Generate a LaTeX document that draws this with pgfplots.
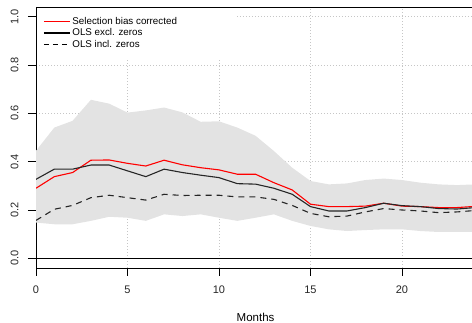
\documentclass[border=0pt]{standalone}
\usepackage{pgfplots}
\pgfplotsset{compat=1.18}
\usepackage{fontspec}
\setmainfont{Liberation Sans}
\begin{document}
\begin{tikzpicture}
\begin{axis}[
  name=ax,
  scale only axis,
  width=439.2pt, height=261pt,
  xmin=0, xmax=24, ymin=-0.04, ymax=1.04,
  xtick={0,5,10,15,20}, ytick={0,0.2,0.4,0.6,0.8,1.0},
  xticklabels={0,5,10,15,20},
  yticklabels={0.0,0.2,0.4,0.6,0.8,1.0},
  tick align=outside, major tick length=8pt,
  xtick pos=bottom, ytick pos=left,
  tick style={black, line width=0.9pt},
  axis line style={black, line width=0.9pt},
  grid=major,
  major grid style={gray!45, line width=0.6pt, dash pattern=on 0.8pt off 2.2pt},
  /pgf/number format/assume math mode=true,
  ticklabel style={font=\fontsize{11}{13}\selectfont, text=black!85},
  xticklabel style={yshift=-6pt},
  yticklabel style={rotate=90, anchor=south, xshift=0pt, yshift=6pt},
  xlabel={Months},
  xlabel style={font=\fontsize{11.5}{13}\selectfont, yshift=-13pt},
  legend style={draw=none, fill=none, at={(0,1)}, anchor=north west,
    xshift=4pt, yshift=-6pt, font=\fontsize{9.8}{11}\selectfont,
    row sep=-1pt},
  legend cell align=left,
]
\addlegendimage{legend image code/.code={\draw[red, line width=1.2pt] (0pt,0pt) -- (26pt,0pt);}}
\addlegendentry{Selection bias corrected}
\addlegendimage{legend image code/.code={\draw[black, line width=1.2pt] (0pt,0pt) -- (26pt,0pt);}}
\addlegendentry{OLS excl. zeros}
\addlegendimage{legend image code/.code={\draw[black, line width=1.2pt, dash pattern=on 5pt off 4pt] (0pt,0pt) -- (26pt,0pt);}}
\addlegendentry{OLS incl. zeros}
\addplot[fill=white, draw=none, forget plot] coordinates {(0.05,0.83) (11,0.83) (11,1.037) (0.05,1.037)} -- cycle;
\addplot[fill=black!11, draw=none, forget plot] coordinates {
(0,0.445) (1,0.541) (2,0.569) (3,0.656) (4,0.640) (5,0.603) (6,0.612) (7,0.624) (8,0.604) (9,0.565) (10,0.567) (11,0.541) (12,0.507) (13,0.444) (14,0.375) (15,0.320) (16,0.306) (17,0.310) (18,0.324) (19,0.330) (20,0.324) (21,0.313) (22,0.306) (23,0.303) (24,0.306)
(24,0.110) (23,0.109) (22,0.109) (21,0.113) (20,0.120) (19,0.120) (18,0.117) (17,0.113) (16,0.120) (15,0.134) (14,0.155) (13,0.182) (12,0.168) (11,0.155) (10,0.168) (9,0.182) (8,0.175) (7,0.182) (6,0.155) (5,0.168) (4,0.172) (3,0.155) (2,0.141) (1,0.141) (0,0.148)
} -- cycle;
\addplot[black, line width=0.9pt, forget plot] coordinates {(0,0) (24,0)};
\addplot[draw=red, line width=1.1pt, forget plot] coordinates {
(0,0.290) (1,0.338) (2,0.355) (3,0.406) (4,0.407) (5,0.393) (6,0.382) (7,0.406) (8,0.387) (9,0.375) (10,0.366) (11,0.348) (12,0.348) (13,0.313) (14,0.283) (15,0.224) (16,0.214) (17,0.214) (18,0.216) (19,0.228) (20,0.216) (21,0.214) (22,0.210) (23,0.210) (24,0.215)};
\addplot[draw=black!85, line width=1.1pt, forget plot] coordinates {
(0,0.327) (1,0.369) (2,0.369) (3,0.386) (4,0.386) (5,0.362) (6,0.338) (7,0.369) (8,0.355) (9,0.344) (10,0.334) (11,0.309) (12,0.307) (13,0.290) (14,0.265) (15,0.214) (16,0.196) (17,0.196) (18,0.210) (19,0.228) (20,0.218) (21,0.214) (22,0.206) (23,0.204) (24,0.210)};
\addplot[draw=black!85, line width=1.1pt, dash pattern=on 6pt off 5pt, forget plot] coordinates {
(0,0.157) (1,0.203) (2,0.219) (3,0.251) (4,0.261) (5,0.251) (6,0.241) (7,0.265) (8,0.260) (9,0.261) (10,0.261) (11,0.254) (12,0.254) (13,0.244) (14,0.219) (15,0.186) (16,0.172) (17,0.175) (18,0.192) (19,0.206) (20,0.200) (21,0.196) (22,0.189) (23,0.192) (24,0.198)};
\end{axis}
\pgfresetboundingbox
\useasboundingbox ([xshift=-36pt,yshift=-55pt]ax.south west) rectangle ([xshift=436pt,yshift=7pt]ax.north west);
\end{tikzpicture}
\end{document}
